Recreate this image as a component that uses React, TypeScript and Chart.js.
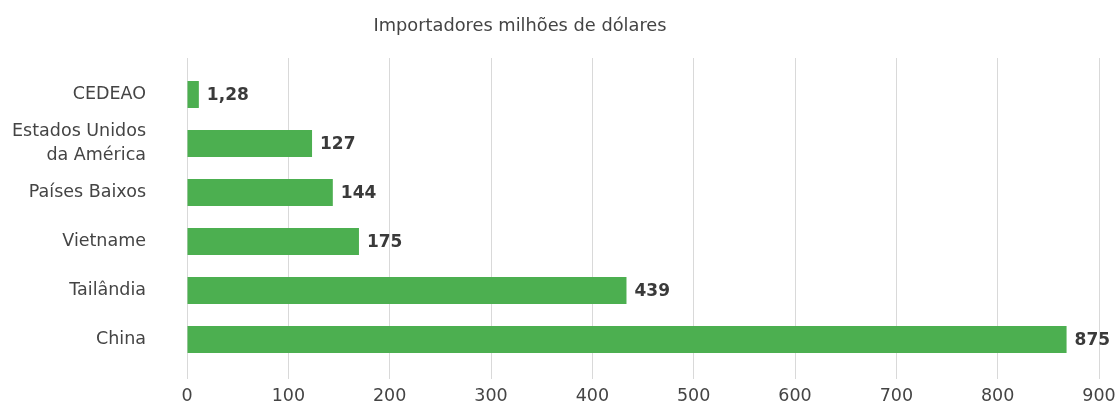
import React, { useEffect, useRef } from "react";
import { Chart, registerables } from "chart.js";

Chart.register(...registerables);

const chartTitle = "Importadores milhões de dólares";
const categories: (string | string[])[] = [
  "CEDEAO",
  ["Estados Unidos", "da América"],
  "Países Baixos",
  "Vietname",
  "Tailândia",
  "China",
];
// bar lengths
const barValues = [11.7, 123.4, 143.9, 169.7, 433.7, 868];
// value labels as printed next to the bars
const valueLabels = ["1,28", "127", "144", "175", "439", "875"];
const axisMin = 0;
const axisMax = 900;
const axisStep = 100;

const FONT = "'DejaVu Sans', sans-serif";
const GREEN = "#4caf50";
const TEXT = "#444444";
const GRID = "#d9d9d9";

const valueLabelPlugin = {
  id: "valueLabels",
  afterDatasetsDraw(chart: any) {
    const ctx = chart.ctx;
    const meta = chart.getDatasetMeta(0);
    ctx.save();
    ctx.font = `bold 17px ${FONT}`;
    ctx.fillStyle = "#3a3a3a";
    ctx.textAlign = "left";
    ctx.textBaseline = "middle";
    meta.data.forEach((bar: any, i: number) => {
      ctx.fillText(valueLabels[i], bar.x + 8, bar.y + 1);
    });
    ctx.restore();
  },
};

const titlePlugin = {
  id: "customTitle",
  afterDraw(chart: any) {
    const ctx = chart.ctx;
    ctx.save();
    ctx.font = `17.8px ${FONT}`;
    ctx.fillStyle = TEXT;
    ctx.textAlign = "center";
    ctx.textBaseline = "middle";
    ctx.fillText(chartTitle, 520, 26);
    ctx.restore();
  },
};

export default function App() {
  const ref = useRef<HTMLCanvasElement>(null);
  useEffect(() => {
    document.body.style.margin = "0";
    if (!ref.current) return;
    const chart = new Chart(ref.current, {
      type: "bar",
      data: {
        labels: categories,
        datasets: [
          {
            data: barValues,
            backgroundColor: GREEN,
            borderWidth: 0,
            barPercentage: 0.55,
            categoryPercentage: 1,
          },
        ],
      },
      options: {
        indexAxis: "y",
        animation: false,
        responsive: true,
        maintainAspectRatio: false,
        layout: { padding: { top: 58, right: 17, bottom: 0, left: 0 } },
        plugins: {
          legend: { display: false },
          tooltip: { enabled: false },
          title: { display: false },
        },
        scales: {
          x: {
            type: "linear",
            position: "bottom",
            min: axisMin,
            max: axisMax,
            ticks: {
              stepSize: axisStep,
              color: TEXT,
              font: { family: FONT, size: 17.5, lineHeight: 1.2 },
              padding: 7,
              maxRotation: 0,
            },
            grid: { color: GRID, lineWidth: 1, drawTicks: true, tickLength: 15 },
            border: { display: false },
            afterFit(scale: any) {
              scale.height = 41;
              scale.paddingLeft = 0;
              scale.paddingRight = 0;
            },
          },
          x2: {
            type: "linear",
            position: "top",
            min: axisMin,
            max: axisMax,
            ticks: { stepSize: axisStep, display: false },
            grid: { color: GRID, lineWidth: 1, drawOnChartArea: false, drawTicks: true, tickLength: 12 },
            border: { display: false },
            afterFit(scale: any) {
              scale.height = 12;
              scale.paddingLeft = 0;
              scale.paddingRight = 0;
            },
          },
          y: {
            type: "category",
            ticks: {
              color: TEXT,
              font: { family: FONT, size: 17.5, lineHeight: 1.38 },
              padding: 41,
              autoSkip: false,
            },
            grid: { display: false, drawTicks: false },
            border: { display: false },
            afterFit(scale: any) {
              scale.width = 187;
              scale.paddingTop = 0;
              scale.paddingBottom = 0;
            },
          },
        },
      },
      plugins: [valueLabelPlugin, titlePlugin],
    } as any);
    return () => chart.destroy();
  }, []);
  return (
    <div style={{ position: "relative", width: "1116px", height: "405px" }}>
      <canvas ref={ref} />
    </div>
  );
}
